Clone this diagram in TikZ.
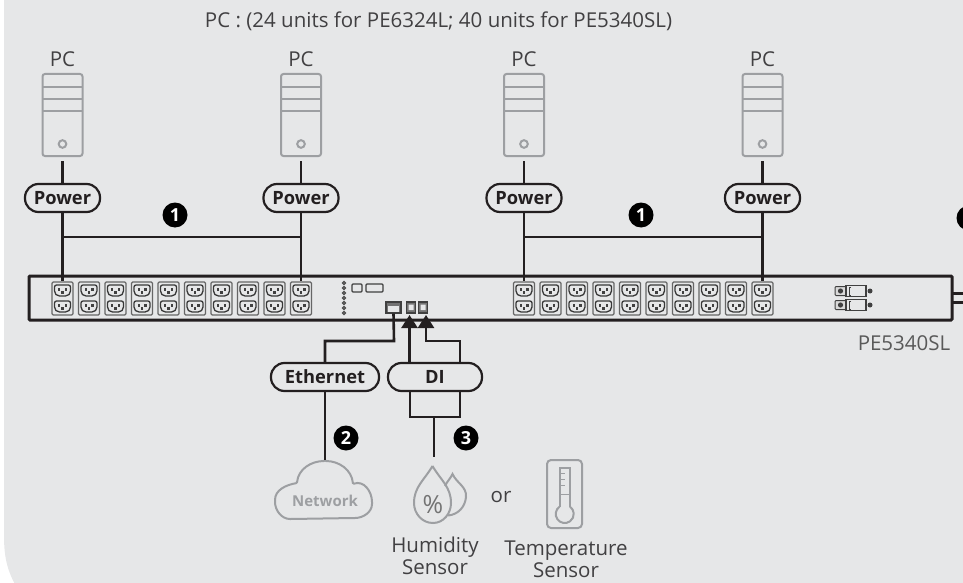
\documentclass[tikz,border=0pt]{standalone}
\usepackage{fontspec}
\setmainfont{Open Sans}
\usetikzlibrary{arrows.meta}
\definecolor{panel}{HTML}{E6E7E8}
\definecolor{icon}{HTML}{9D9FA2}
\definecolor{ink}{HTML}{414042}
\definecolor{wirec}{HTML}{231F20}
\tikzset{
  >=latex,
  wire/.style={draw=wirec, line width=2.6pt},
  tipwire/.style={wire, -{Triangle[length=13pt,width=16pt]}},
  label/.style={text=ink, font=\fontsize{20.5}{22}\selectfont, align=center, inner sep=0},
  pill/.style={draw=wirec, line width=2.2pt, fill=panel, rounded corners=13.5pt, minimum height=28pt, inner sep=0,
    text=wirec, font=\fontsize{18.3}{20}\selectfont\bfseries},
  badge/.style={circle, fill=black, text=white, minimum size=25pt, inner sep=0, font=\fontsize{18}{20}\selectfont\bfseries},
  pcbox/.style={draw=icon, line width=2pt, rounded corners=2.5pt, minimum width=40pt, minimum height=82pt, inner sep=0},
  outletbox/.style={draw=black!60, fill=panel, line width=1.3pt, rounded corners=1.2pt, minimum width=21pt, minimum height=33pt, inner sep=0},
  portbox/.style={draw=black!75, line width=1.2pt, inner sep=0},
  outlet/.pic={
    \foreach \yy in {-8,8}
      \draw[black!78, line width=1.3pt, rounded corners=2pt, fill=panel]
        (-8,\yy-5.5) -- (8,\yy-5.5) -- (8,\yy+2.5) -- (5,\yy+5.5) -- (-5,\yy+5.5) -- (-8,\yy+2.5) -- cycle;
    \foreach \yy in {-8,8} {
      \fill[black!75] (-4.5,\yy-2.5) rectangle (-2.4,\yy+0.8);
      \fill[black!75] (2.4,\yy-2.5) rectangle (4.5,\yy+0.8);
      \fill[black!75] (-1.2,\yy+0.8) rectangle (1.2,\yy+3.2);
    }
  },
  inlet/.pic={
    \draw[black!75, line width=1pt, fill=black!15, rounded corners=1pt] (-15,-4.5) rectangle (-4,4.5);
    \fill[black!75] (-9.5,0) circle (2.6);
    \draw[black!75, line width=1.1pt, fill=panel] (-4,-5.5) rectangle (16,5.5);
    \draw[black!75, line width=1pt] (1,-4) -- (-1,-4) -- (-1,4) -- (1,4);
    \fill[black!75] (20,0) circle (2.5);
  }
}
\begin{document}
\begin{tikzpicture}[x=1pt,y=-1pt]
  \useasboundingbox (0,0) rectangle (963,583);
  \clip (0,0) rectangle (963,583);
  \coordinate (BusA) at (62.5,237);
  \coordinate (BusB) at (524,237);
  \coordinate (EthT) at (394,341);
  \coordinate (EthK) at (325,341);
  \coordinate (TipA) at (409.5,315);
  \coordinate (TipB) at (426,315);
  \coordinate (DIK) at (460,341);
  \coordinate (DIM) at (426,341);
  \coordinate (LoL) at (410,417);
  \coordinate (LoR) at (460,417);
  \coordinate (LoC) at (434,417);
  \coordinate (LoE) at (434,457);

  % PANEL
  \fill[panel] (4,-5) -- (970,-5) -- (970,590) -- (18,590) .. controls (8,572) and (4,560) .. (4,535) -- cycle;

  % TOP TEXT
  \node[label] (Units) at (438.5,21) {PC : (24 units for PE6324L; 40 units for PE5340SL)};

  % PC
  \foreach \n/\xx in {1/62.5, 2/301, 3/524, 4/762.5} {
    \node[label] (Name\n) at (\xx,59) {PC};
    \node[pcbox] (PC\n) at (\xx,115) {};
    \draw[icon, line width=2pt] (\xx-20,87) -- (\xx+20,87) (\xx-20,99) -- (\xx+20,99) (\xx-20,111) -- (\xx+20,111);
    \draw[icon, line width=2pt] (\xx,144) circle (3.8);
    \node[pill, minimum width=75pt] (Power\n) at (\xx,198) {Power};
    \draw[wire, shorten <=4pt] (PC\n) -- (Power\n);
  }

  % STRIP
  \draw[wirec, line width=3pt] (952,293.5) -- (963,293.5) (952,302.5) -- (963,302.5);
  \node[draw=wirec, line width=3pt, rounded corners=1pt, minimum width=923pt, minimum height=44pt, inner sep=0] (Strip) at (490.5,298) {};
  \foreach \i in {0,...,9} {
    \node[outletbox] (OutA\i) at (62.5+26.5*\i,298.5) {};
    \pic at (OutA\i) {outlet};
    \node[outletbox] (OutB\i) at (524+26.5*\i,298.5) {};
    \pic at (OutB\i) {outlet};
  }
  \draw[wire] (Power1) -- (OutA0.north);
  \draw[wire] (Power2) -- (OutA9.north);
  \draw[wire] (Power3) -- (OutB0.north);
  \draw[wire] (Power4) -- (OutB9.north);
  \draw[wire] (BusA) -- (BusA -| Power2);
  \draw[wire] (BusB) -- (BusB -| Power4);
  \foreach \i in {0,...,6}
    \draw[black!70, line width=1.1pt] (344,283+5*\i) circle (1.5);
  \node[portbox, rounded corners=1pt, minimum width=10pt, minimum height=8pt] (Slot1) at (357,288) {};
  \node[portbox, rounded corners=1pt, minimum width=17pt, minimum height=8pt] (Slot2) at (374.5,288) {};
  \node[portbox, fill=black!55, minimum width=15pt, minimum height=11pt] (EthPort) at (393.5,307.5) {};
  \fill[panel] (388,305.5) rectangle (399,311.5);
  \node[portbox, fill=black!55, minimum width=9pt, minimum height=11pt] (DIa) at (411,307.5) {};
  \node[portbox, fill=black!55, minimum width=9pt, minimum height=11pt] (DIb) at (423,307.5) {};
  \fill[panel] (408.5,304.5) rectangle (413.5,310) (420.5,304.5) rectangle (425.5,310);
  \pic at (850,291) {inlet};
  \pic at (850,305) {inlet};
  \node[label, text=black!65] (Model) at (904,343) {PE5340SL};

  % BADGES
  \node[badge] (BadgeA) at (175,215) {1};
  \node[badge] (BadgeB) at (641,215) {1};
  \node[badge] (BadgeC) at (969,218) {};
  \node[badge] (BadgeD) at (346,438) {2};
  \node[badge] (BadgeE) at (466,438) {3};

  % LAN AND SENSORS
  \node[pill, minimum width=108pt] (Ethernet) at (325,377) {Ethernet};
  \node[pill, minimum width=94pt] (DI) at (435,377) {DI};
  \draw[wire] (EthPort.south) -- (EthT) -- (EthK) -- (Ethernet.north);
  \draw[tipwire] (DI.north -| TipA) -- (TipA);
  \draw[tipwire] (DIK |- DI.north) -- (DIK) -- (DIM) -- (TipB);
  \draw[wire] (DI.south -| LoL) -- (LoL) -- (LoR) -- (DI.south -| LoR);
  \draw[wire] (LoC) -- (LoE);

  % NETWORK
  \draw[icon, line width=2pt, rounded corners=1pt] (325,461)
    to[out=0,in=95] (353,484)
    to[out=20,in=90,looseness=1.1] (372,503)
    to[out=-90,in=0] (354,518)
    -- (291,519)
    to[out=180,in=-90] (275,501)
    to[out=90,in=190] (297,483)
    to[out=85,in=180] (325,461) -- cycle;
  \node[inner sep=0, text=icon, font=\fontsize{15}{16}\selectfont\bfseries] (Network) at (325,501) {Network};
  \draw[wire] (Ethernet.south) -- (Network |- 0,460);

  % DROPS
  \draw[icon, line width=2pt] (448,515.5) to[out=5,in=-95,looseness=1] (466,497)
    to[out=85,in=-65] (452.5,474) to[out=-115,in=65] (445,486);
  \draw[icon, line width=2pt] (432.5,466) to[out=-60,in=90] (451,503)
    to[out=-90,in=0] (433,523) to[out=180,in=-90] (414,503)
    to[out=90,in=-120] (432.5,466);
  \node[inner sep=0, text=black!55, font=\fontsize{25}{26}\selectfont] (Percent) at (433,505) {\%};
  \node[label] (Hum) at (435,556) {Humidity\\Sensor};
  \node[label] (Or) at (501,497) {or};

  % THERMO
  \draw[icon, line width=2pt, rounded corners=4pt] (547,460) rectangle (582,528);
  \draw[icon, line width=2pt] (559.5,506.7) -- (559.5,468) -- (570,468) -- (570,506.7);
  \draw[icon, line width=2pt] (559.5,506.7) arc[start angle=-125.7, end angle=-414.3, radius=9];
  \draw[icon, line width=1.6pt] (559.5,473.5) -- (565,473.5) (559.5,479.5) -- (565,479.5) (559.5,485.5) -- (565,485.5) (559.5,494.5) -- (570,494.5);
  \node[label] (Temp) at (566,559) {Temperature\\Sensor};
\end{tikzpicture}
\end{document}
